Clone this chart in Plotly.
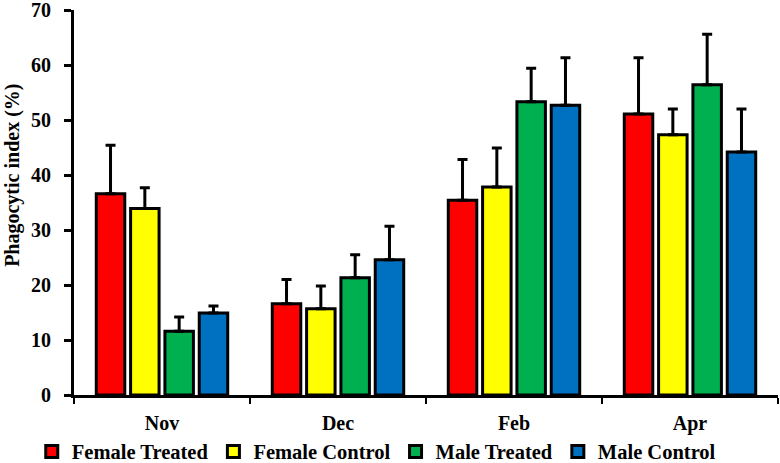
import plotly.graph_objects as go

months = ["Nov", "Dec", "Feb", "Apr"]
series_names = ["Female Treated", "Female Control", "Male Treated", "Male Control"]
female_treated = [36.6, 16.6, 35.4, 51.1]
female_treated_err = [8.8, 4.4, 7.4, 10.2]
female_control = [33.9, 15.7, 37.8, 47.3]
female_control_err = [3.8, 4.1, 7.1, 4.7]
male_treated = [11.6, 21.3, 53.3, 56.4]
male_treated_err = [2.6, 4.2, 6.1, 9.2]
male_control = [14.9, 24.6, 52.7, 44.2]
male_control_err = [1.3, 6.1, 8.6, 7.8]
colors = ["#FF0000", "#FFFF00", "#00B050", "#0070C0"]
y_title = "Phagocytic index (%)"

values = [female_treated, female_control, male_treated, male_control]
errors = [female_treated_err, female_control_err, male_treated_err, male_control_err]

font_family = "'Times New Roman', 'Liberation Serif', serif"

fig = go.Figure()
for name, vals, errs, col in zip(series_names, values, errors, colors):
    fig.add_trace(go.Bar(
        x=months, y=vals, name=name,
        marker=dict(color=col, line=dict(color="black", width=3)),
        error_y=dict(type="data", array=errs, arrayminus=[0] * len(errs), symmetric=False,
                     color="black", thickness=3, width=5),
    ))

fig.update_layout(
    width=780, height=463,
    margin=dict(l=74, r=2, t=10, b=68, autoexpand=False),
    paper_bgcolor="white", plot_bgcolor="white",
    barmode="group", bargap=0.22, bargroupgap=0.17,
    font=dict(family=font_family, color="black", size=20),
    showlegend=True,
    legend=dict(orientation="h", x=-0.06, xanchor="left", y=-0.147, yanchor="middle",
                bgcolor="rgba(0,0,0,0)",
                font=dict(family=font_family, size=20.5, color="black", weight="bold"),
                itemwidth=30, tracegroupgap=0),
    annotations=[dict(text=y_title, textangle=-90, xref="paper", yref="paper",
                      x=-0.0885, y=0.571, xanchor="center", yanchor="middle", showarrow=False,
                      font=dict(family=font_family, size=20, color="black", weight="bold"))],
)
fig.update_xaxes(
    showline=True, linecolor="black", linewidth=3, automargin=False,
    ticks="outside", tickson="boundaries", ticklen=6, tickwidth=2, tickcolor="black",
    tickfont=dict(family=font_family, size=20, color="black", weight="bold"),
    ticklabelstandoff=8,
    showgrid=False, zeroline=False,
)
fig.update_yaxes(
    range=[0, 70], dtick=10, automargin=False, ticklabeloverflow="allow",
    showline=True, linecolor="black", linewidth=3,
    ticks="outside", ticklen=7, tickwidth=3, tickcolor="black",
    tickfont=dict(family=font_family, size=20, color="black", weight="bold"),
    ticklabelstandoff=9,
    showgrid=False, zeroline=False,
)

fig.write_html("out.html", config={"displayModeBar": False},
               post_script="document.body.style.margin='0px';")
